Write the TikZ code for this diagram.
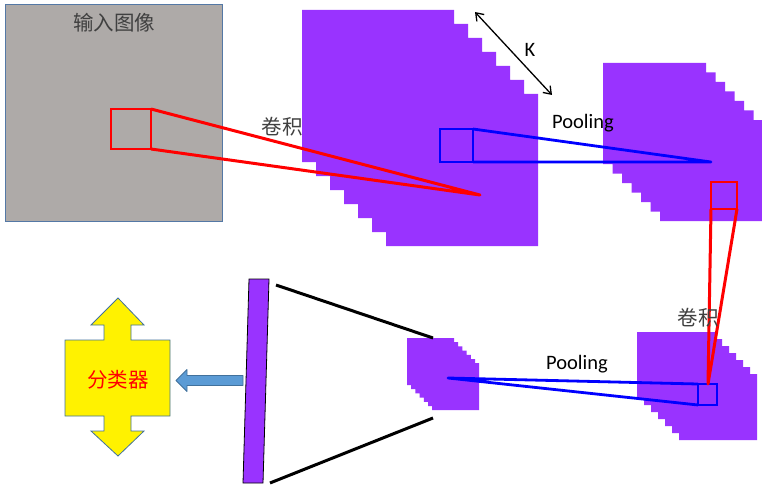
\documentclass[tikz,border=0pt]{standalone}
\usepackage{fontspec}
\setmainfont{Carlito}
\newfontfamily\cjk{Noto Sans CJK SC}
\usetikzlibrary{arrows.meta}
\definecolor{purp}{RGB}{153,51,255}
\definecolor{boxgray}{RGB}{174,170,168}
\definecolor{boxedge}{RGB}{84,120,165}
\definecolor{txtgray}{RGB}{64,64,64}
\definecolor{arrowblue}{RGB}{91,155,213}
\definecolor{arrowedge}{RGB}{65,113,156}
\newcommand\mystack[6]{%
  \fill[purp,nonzero rule] \foreach \i in {0,...,#6}{%
    ({#1+\i*#5},{#2+\i*#5}) rectangle ++(#3,#4)};}
\begin{document}
\begin{tikzpicture}[x=1pt,y=-1pt,
  sqbox/.style={draw,line width=1.2pt,inner sep=0pt,outer sep=0pt,anchor=north west,fill=none},
  redsq/.style={sqbox,draw=red},
  bluesq/.style={sqbox,draw=blue},
  redline/.style={draw=red,line width=3pt,line join=round},
  blueline/.style={draw=blue,line width=2.8pt,line join=round},
  blackline/.style={draw=black,line width=3pt},
  cjklabel/.style={font=\cjk\fontsize{20.5}{24}\selectfont,text=txtgray,inner sep=0pt},
  latlabel/.style={font=\fontsize{20.5}{24}\selectfont,text=black,inner sep=0pt}]
\useasboundingbox (0,0) rectangle (762,492);

% input image
\draw[fill=boxgray,draw=boxedge,line width=1pt] (5,5) rectangle (222,221);
\node[cjklabel] (tin) at (114,23) {输入图像};

% label behind stack 1
\node[cjklabel] (tconv1) at (282,127) {卷积};

% stacks
\mystack{302}{10}{152}{152}{14}{6}
\mystack{603}{63}{103}{101}{9.5}{6}
\mystack{637}{332}{78}{66}{7}{6}
\mystack{407}{338}{47}{47}{4.2}{6}

% small windows
\node[redsq,minimum width=40pt,minimum height=40pt] (sq1) at (111,109) {};
\node[bluesq,minimum width=33pt,minimum height=33pt] (sq2) at (440,129) {};
\node[redsq,minimum width=26pt,minimum height=27pt] (sq3) at (711,182) {};
\node[bluesq,minimum width=19pt,minimum height=21pt] (sq4) at (698,384) {};

% apexes
\coordinate (a1) at (480,195);
\coordinate (a2) at (711,162);
\coordinate (a3) at (708,384);
\coordinate (a4) at (448,378);

\draw[redline] (sq1.north east) -- (a1) -- (sq1.south east);
\draw[blueline] (sq2.north east) -- (a2) -- (sq2.south east);
\draw[redline] (sq3.south west) -- (a3) -- (sq3.south east);
\draw[blueline] (sq4.north west) -- (a4) -- (sq4.south west);

% K arrow
\coordinate (k1) at (475,12);
\coordinate (k2) at (552,95);
\draw[line width=1.3pt,{Straight Barb[length=7pt,width=10pt]}-{Straight Barb[length=7pt,width=10pt]}] (k1) -- (k2);
\node[latlabel] (tk) at (530,50) {K};

% labels
\node[latlabel] (tpool1) at (583,123) {Pooling};
\node[latlabel] (tpool2) at (577,364) {Pooling};
\node[cjklabel] (tconv2) at (698,318) {卷积};

% fully connected bar
\draw[fill=purp,draw=black,line width=0.8pt] (249,279) -- (269,279) -- (263,483) -- (243,483) -- cycle;
\coordinate (b1) at (276,285);
\coordinate (b2) at (433,338);
\coordinate (b3) at (433,418);
\coordinate (b4) at (270,483);
\draw[blackline] (b1) -- (b2);
\draw[blackline] (b3) -- (b4);

% blue arrow
\draw[fill=arrowblue,draw=arrowedge,line width=0.8pt,line join=round]
  (243,375.5) -- (187,375.5) -- (187,369.5) -- (176,380.5) -- (187,391.5) -- (187,385.5) -- (243,385.5) -- cycle;

% classifier shape
\draw[fill=yellow,draw=arrowedge,line width=0.8pt,line join=miter]
  (118,298) -- (144,325) -- (131,325) -- (131,340) -- (170,340) -- (170,416) -- (131,416) -- (131,431) -- (144,431)
  -- (118,456) -- (91,431) -- (104,431) -- (104,416) -- (65,416) -- (65,340) -- (104,340) -- (104,325) -- (91,325) -- cycle;
\node[cjklabel,text=red] (tcls) at (118,380) {分类器};
\end{tikzpicture}
\end{document}
